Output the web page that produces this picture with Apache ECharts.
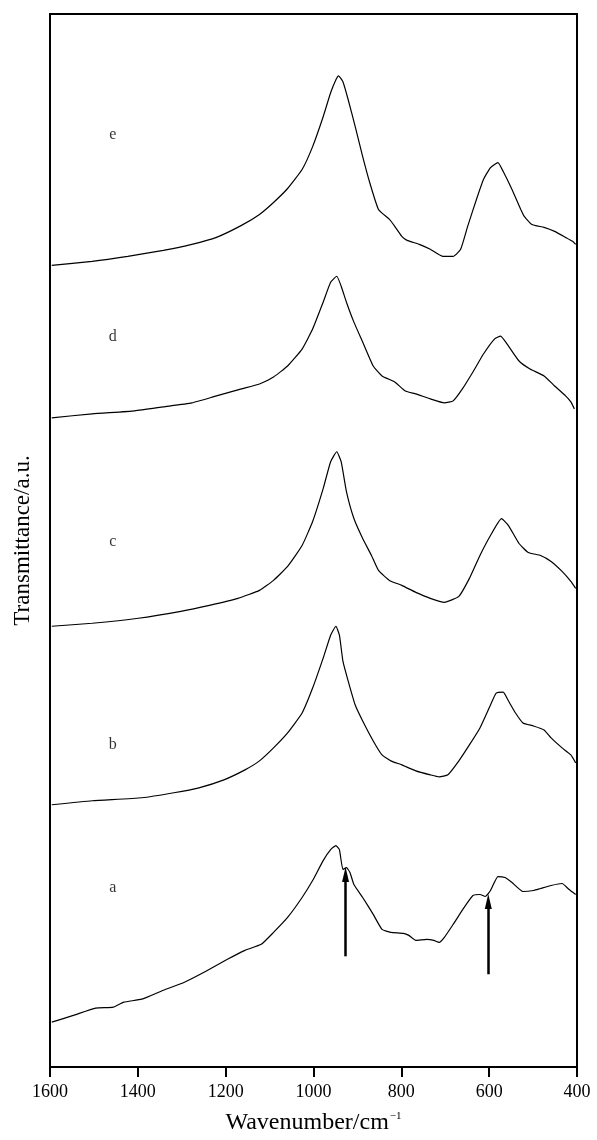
<!DOCTYPE html>
<html>
<head>
<meta charset="utf-8">
<script src="https://cdn.jsdelivr.net/npm/echarts@6/dist/echarts.min.js"></script>
<style>
  html, body { margin: 0; padding: 0; background: #fff; }
  #chart { width: 597px; height: 1140px; }
</style>
</head>
<body>
<div id="chart"></div>
<script>
// spectra: [wavenumber, transmittance (a.u., offset)]
const specA = [
  [1596, 45], [1545, 52], [1496, 59], [1456, 60], [1432, 65], [1391, 68], [1342, 77], [1294, 85],
  [1245, 96], [1196, 108], [1156, 117], [1119, 123], [1091, 135], [1059, 150], [1026, 170], [1002, 187],
  [978, 207], [961, 218], [949, 222], [941, 218], [933, 198], [925, 200], [917, 195], [908, 183],
  [888, 170], [864, 153], [844, 138], [824, 135], [795, 134], [783, 132], [767, 127], [742, 128],
  [726, 127], [714, 125], [702, 130], [682, 143], [657, 160], [637, 172], [621, 173], [609, 171],
  [597, 177], [580, 191], [564, 190], [548, 185], [523, 176], [499, 177], [483, 179], [459, 182],
  [434, 184], [418, 178], [403, 173]
];
const specB = [
  [1596, 263], [1504, 267], [1391, 270], [1318, 275], [1261, 280], [1204, 288], [1156, 298], [1123, 307],
  [1091, 320], [1059, 335], [1026, 355], [1002, 380], [978, 410], [961, 433], [949, 442], [941, 433],
  [933, 407], [921, 387], [905, 363], [888, 347], [864, 327], [844, 313], [824, 307], [799, 303],
  [767, 297], [734, 293], [714, 291], [694, 293], [669, 307], [645, 323], [621, 340], [597, 363],
  [584, 375], [568, 376], [556, 367], [540, 355], [523, 345], [499, 342], [475, 338], [459, 330],
  [434, 320], [414, 313], [403, 305]
];
const specC = [
  [1596, 442], [1504, 445], [1399, 450], [1302, 457], [1237, 463], [1172, 470], [1123, 478], [1091, 488],
  [1059, 502], [1026, 523], [1002, 547], [978, 580], [961, 607], [947, 617], [937, 607], [925, 577],
  [908, 550], [888, 530], [868, 513], [852, 498], [827, 488], [799, 483], [767, 476], [734, 470],
  [702, 466], [669, 472], [645, 490], [621, 513], [597, 533], [572, 550], [556, 543], [532, 525],
  [511, 516], [483, 513], [459, 507], [434, 497], [414, 487], [403, 480]
];
const specD = [
  [1596, 651], [1504, 655], [1407, 658], [1342, 662], [1277, 666], [1221, 673], [1164, 680], [1123, 685],
  [1091, 692], [1059, 703], [1026, 720], [1002, 740], [978, 767], [961, 787], [947, 793], [937, 783],
  [925, 767], [908, 747], [888, 727], [864, 703], [844, 693], [815, 687], [791, 678], [767, 675],
  [734, 670], [702, 666], [682, 668], [661, 680], [637, 697], [613, 715], [588, 730], [574, 733],
  [556, 723], [532, 708], [507, 700], [475, 693], [451, 683], [426, 673], [414, 667], [406, 660]
];
const specE = [
  [1596, 804], [1504, 808], [1423, 813], [1342, 819], [1277, 825], [1221, 832], [1164, 844], [1123, 855],
  [1091, 867], [1059, 881], [1026, 900], [1002, 923], [978, 953], [961, 977], [949, 990], [943, 994],
  [933, 988], [921, 970], [905, 943], [888, 913], [872, 887], [852, 860], [827, 850], [815, 843],
  [799, 833], [787, 829], [759, 825], [734, 820], [706, 813], [682, 813], [665, 820], [649, 843],
  [629, 870], [613, 890], [597, 902], [580, 907], [568, 898], [548, 880], [528, 860], [520, 853],
  [503, 845], [475, 842], [451, 838], [426, 832], [410, 828], [403, 825]
];

const curveNames = ['a', 'b', 'c', 'd', 'e'];
const labelWave = 1457;
const labelValues = [180, 323, 527, 732, 935];

// arrows on curve a: wavenumber, tail value, head value
const arrowWaves = [927, 602];
const arrowFrom = [111, 93];
const arrowTo = [193, 166];

const xTicks = [400, 600, 800, 1000, 1200, 1400, 1600];

const serif = 'Liberation Serif';
const chart = echarts.init(document.getElementById('chart'));

const spectra = [specA, specB, specC, specD, specE];
const lineSeries = spectra.map((d, i) => ({
  name: curveNames[i],
  type: 'line',
  data: d,
  showSymbol: false,
  smooth: 0.15,
  lineStyle: { color: '#000', width: 1.2 },
  z: 3
}));

lineSeries[0].markLine = {
  silent: true,
  symbol: ['none', 'triangle'],
  symbolSize: [7, 15],
  label: { show: false },
  lineStyle: { color: '#000', width: 2.5, type: 'solid' },
  data: arrowWaves.map((w, i) => [
    { coord: [w, arrowFrom[i]] },
    { coord: [w, arrowTo[i]] }
  ])
};

const option = {
  animation: false,
  backgroundColor: '#fff',
  grid: {
    left: 50, right: 20, top: 14, bottom: 70,
    show: true, borderColor: '#000', borderWidth: 2, backgroundColor: 'transparent'
  },
  xAxis: {
    type: 'value',
    inverse: true,
    min: xTicks[0],
    max: xTicks[xTicks.length - 1],
    interval: 200,
    name: 'Wavenumber/cm{sup|\u22121}',
    nameLocation: 'middle',
    nameGap: 44,
    nameTextStyle: {
      fontFamily: serif, fontSize: 24, color: '#000',
      rich: {
        sup: { fontFamily: serif, fontSize: 11, color: '#000', verticalAlign: 'top', padding: [0, 0, 10, 1] }
      }
    },
    axisLine: { show: true, lineStyle: { color: '#000', width: 2 } },
    axisTick: { show: true, inside: false, length: 10, lineStyle: { color: '#000', width: 2 } },
    axisLabel: {
      fontFamily: serif, fontSize: 18, color: '#000', margin: 16,
      formatter: v => String(v)
    },
    splitLine: { show: false }
  },
  yAxis: {
    type: 'value',
    min: 0,
    max: 1056,
    name: 'Transmittance/a.u.',
    nameLocation: 'middle',
    nameGap: 16,
    nameTextStyle: { fontFamily: serif, fontSize: 23, color: '#000' },
    axisLine: { show: true, lineStyle: { color: '#000', width: 2 } },
    axisTick: { show: false },
    axisLabel: { show: false },
    splitLine: { show: false }
  },
  series: lineSeries.concat([{
    type: 'scatter',
    symbolSize: 0,
    silent: true,
    data: curveNames.map((n, i) => ({ name: n, value: [labelWave, labelValues[i]] })),
    label: {
      show: true,
      position: 'inside',
      formatter: p => p.name,
      fontFamily: serif,
      fontSize: 16,
      color: '#000'
    }
  }])
};

chart.setOption(option);
</script>
</body>
</html>
